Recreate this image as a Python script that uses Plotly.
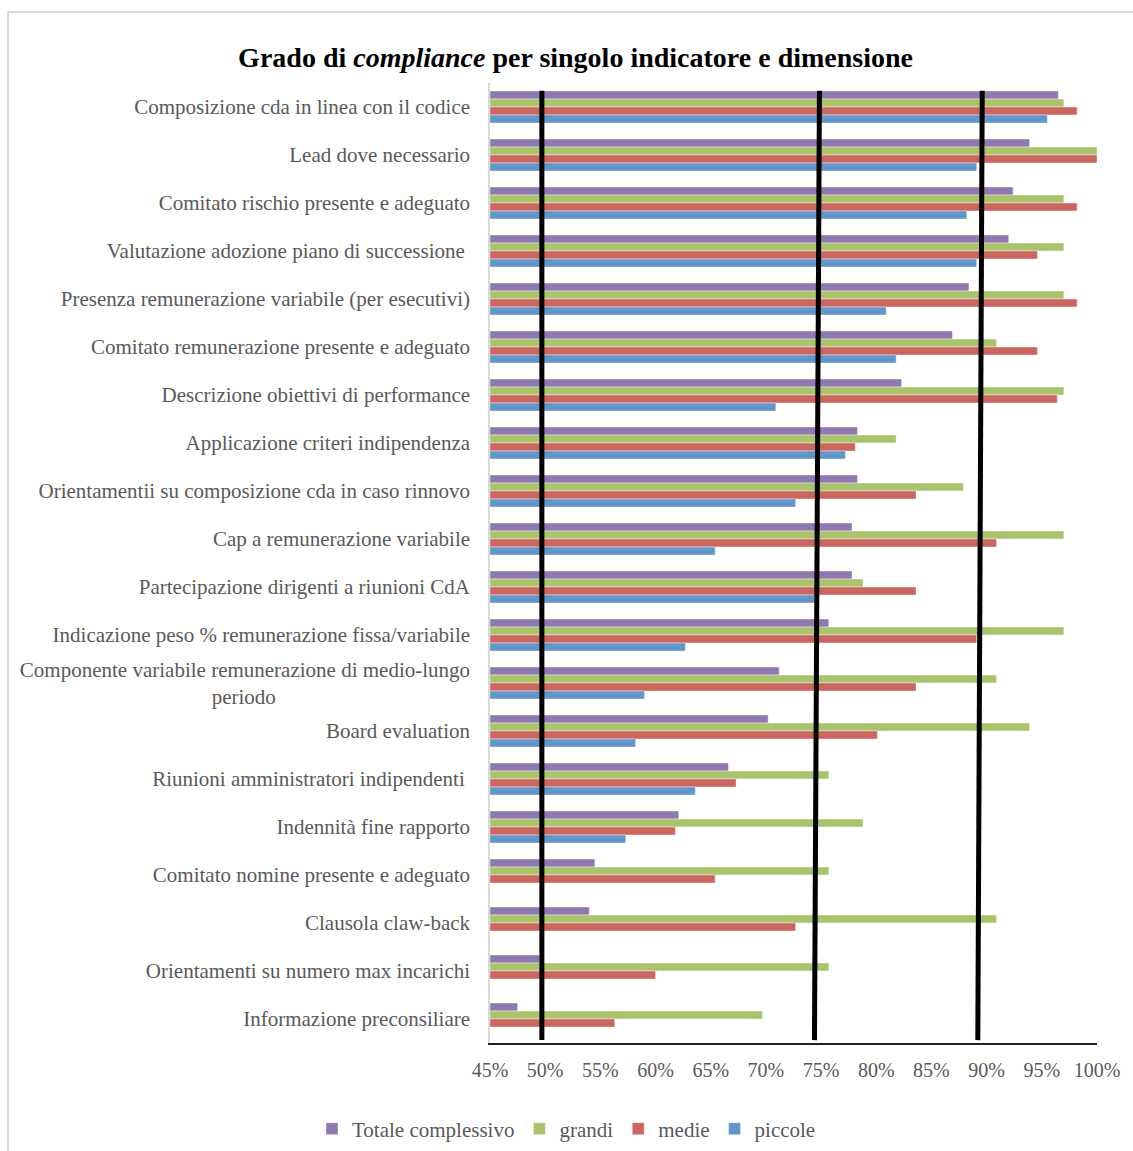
import plotly.graph_objects as go

NB = "\u00a0"

categories = [
    "Composizione cda in linea con il codice",
    "Lead dove necessario",
    "Comitato rischio presente e adeguato",
    "Valutazione adozione piano di successione" + NB,
    "Presenza remunerazione variabile (per esecutivi)",
    "Comitato remunerazione presente e adeguato",
    "Descrizione obiettivi di performance",
    "Applicazione criteri indipendenza",
    "Orientamentii su composizione cda in caso rinnovo",
    "Cap a remunerazione variabile",
    "Partecipazione dirigenti a riunioni CdA",
    "Indicazione peso % remunerazione fissa/variabile",
    "Componente variabile remunerazione di medio-lungo<br>periodo" + NB * 37,
    "Board evaluation",
    "Riunioni amministratori indipendenti" + NB,
    "Indennità fine rapporto",
    "Comitato nomine presente e adeguato",
    "Clausola claw-back",
    "Orientamenti su numero max incarichi",
    "Informazione preconsiliare",
]

totale = [96.5, 93.9, 92.4, 92.0, 88.4, 86.9, 82.3, 78.3, 78.3, 77.8,
          77.8, 75.7, 71.2, 70.2, 66.6, 62.1, 54.5, 54.0, 49.5, 47.5]
grandi = [97.0, 100.0, 97.0, 97.0, 97.0, 90.9, 97.0, 81.8, 87.9, 97.0,
          78.8, 97.0, 90.9, 93.9, 75.7, 78.8, 75.7, 90.9, 75.7, 69.7]
medie = [98.2, 100.0, 98.2, 94.6, 98.2, 94.6, 96.4, 78.1, 83.6, 90.9,
         83.6, 89.1, 83.6, 80.1, 67.3, 61.8, 65.4, 72.7, 60.0, 56.3]
piccole = [95.5, 89.1, 88.2, 89.1, 80.9, 81.8, 70.9, 77.2, 72.7, 65.4,
           74.4, 62.7, 59.0, 58.2, 63.6, 57.3, None, None, None, None]

series_names = ["Totale complessivo", "grandi", "medie", "piccole"]
series_values = [totale, grandi, medie, piccole]
series_colors = ["#9079B0", "#AAC46D", "#CD655F", "#6196C8"]

x_ticks = [45, 50, 55, 60, 65, 70, 75, 80, 85, 90, 95, 100]
x_ticklabels = [f"{t}%" for t in x_ticks]

# hand-drawn reference lines: (x at bottom, x at top) in percent
ref_lines = [(49.7, 49.7), (74.4, 74.85), (89.2, 89.6)]

FONT = "Liberation Serif, Times New Roman, serif"
GRAY = "#595959"

fig = go.Figure()
for name, vals, col in zip(series_names, series_values, series_colors):
    fig.add_trace(go.Bar(
        y=categories,
        x=[None if v is None else v - 45 for v in vals],
        base=45,
        orientation="h",
        name=name,
        marker=dict(color=col, line=dict(color="rgba(255,255,255,0.5)", width=0.8)),
    ))

for xb, xt in ref_lines:
    fig.add_shape(type="line", xref="x", yref="paper",
                  x0=xb, y0=0.003, x1=xt, y1=0.992,
                  line=dict(color="black", width=5), layer="above")

# outer light frame
fig.add_shape(type="rect", xref="paper", yref="paper",
              x0=-0.794, y0=-0.3, x1=1.2, y1=1.074,
              line=dict(color="#d9d9d9", width=2), layer="below")

fig.update_layout(
    width=1133, height=1151,
    margin=dict(l=490, r=36, t=83, b=108),
    paper_bgcolor="white", plot_bgcolor="white",
    barmode="group", bargap=0.333, bargroupgap=0,
    font=dict(family=FONT, color=GRAY, size=20),
    title=dict(
        text="<b>Grado di <i>compliance</i> per singolo indicatore e dimensione</b>",
        x=0.508, xanchor="center", xref="container",
        y=1 - 57 / 1151, yanchor="middle", yref="container",
        font=dict(family=FONT, size=28, color="black"),
    ),
    xaxis=dict(
        range=[45, 100], tickvals=x_ticks, ticktext=x_ticklabels,
        showgrid=False, zeroline=False, showline=True,
        linecolor="#222222", linewidth=2, ticks="",
        tickfont=dict(family=FONT, size=20, color=GRAY),
        ticklabelstandoff=8,
    ),
    yaxis=dict(
        autorange="reversed", showgrid=False, zeroline=False,
        showline=True, linecolor="#d9d9d9", linewidth=1.5, ticks="",
        tickfont=dict(family=FONT, size=21, color=GRAY),
        ticklabelstandoff=14,
    ),
    legend=dict(
        orientation="h", x=0.5, xanchor="center", xref="container",
        y=1 - 1129 / 1151, yanchor="middle", yref="container",
        font=dict(family=FONT, size=21, color=GRAY),
        traceorder="normal", itemwidth=30,
    ),
)

fig.write_html("out.html")
